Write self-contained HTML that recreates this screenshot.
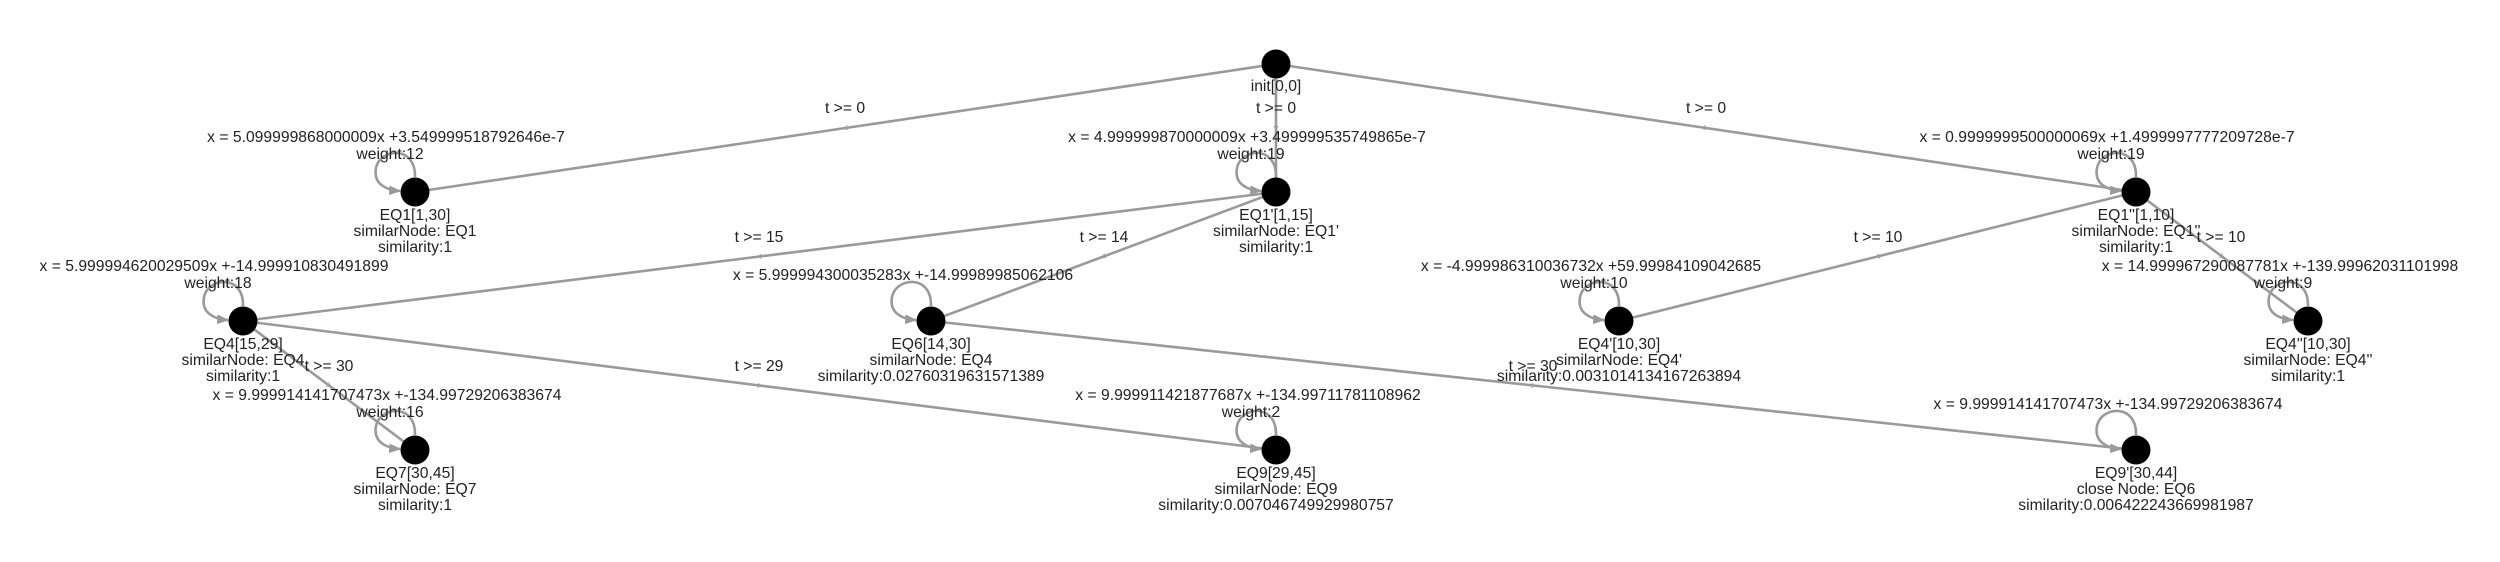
<!DOCTYPE html>
<html><head><meta charset="utf-8"><style>
html,body{margin:0;padding:0;background:#fff;}
svg{display:block;}
text{font-family:"Liberation Sans",Arial,sans-serif;font-size:15.7px;fill:#222;text-anchor:middle;}
.e{stroke:#9a9a9a;stroke-width:2.6;fill:none;}
</style></head><body>
<svg width="2500" height="562" viewBox="0 0 2500 562" xmlns="http://www.w3.org/2000/svg">
<defs>
<marker id="m" viewBox="0 0 10 10" refX="5" refY="5" markerWidth="5" markerHeight="5" orient="auto" markerUnits="userSpaceOnUse">
<path d="M0,0 L8,5 L0,10" fill="none" stroke="#9a9a9a" stroke-width="1.5"/></marker>
<marker id="a" viewBox="0 0 10 10" refX="9" refY="5" markerWidth="12" markerHeight="12" orient="auto" markerUnits="userSpaceOnUse">
<path d="M0,1 L10,5 L0,9 z" fill="#9a9a9a"/></marker>
</defs>
<path class="e" marker-mid="url(#m)" d="M1276,64 L845.5,128 L415,192"/>
<path class="e" marker-mid="url(#m)" d="M1276,64 L1276,128 L1276,192"/>
<path class="e" marker-mid="url(#m)" d="M1276,64 L1706,128 L2136,192"/>
<path class="e" marker-mid="url(#m)" d="M1276,192 L759.5,256.5 L243,321"/>
<path class="e" marker-mid="url(#m)" d="M1276,192 L1103.5,256.5 L931,321"/>
<path class="e" marker-mid="url(#m)" d="M2136,192 L1877.5,256.5 L1619,321"/>
<path class="e" marker-mid="url(#m)" d="M2136,192 L2222,256.5 L2308,321"/>
<path class="e" marker-mid="url(#m)" d="M243,321 L329,385.5 L415,450"/>
<path class="e" marker-mid="url(#m)" d="M243,321 L759.5,385.5 L1276,450"/>
<path class="e" marker-mid="url(#m)" d="M931,321 L1533.5,385.5 L2136,450"/>
<g class="e" marker-end="url(#a)">
<path d="M415,177 C416,145 380,148 376,168 C373,184 386,190 400,191"/>
<path d="M1276,177 C1277,145 1241,148 1237,168 C1234,184 1247,190 1261,191"/>
<path d="M2136,177 C2137,145 2101,148 2097,168 C2094,184 2107,190 2121,191"/>
<path d="M243,306 C244,274 208,277 204,297 C201,313 214,319 228,320"/>
<path d="M931,306 C932,274 896,277 892,297 C889,313 902,319 916,320"/>
<path d="M1619,306 C1620,274 1584,277 1580,297 C1577,313 1590,319 1604,320"/>
<path d="M2308,306 C2309,274 2273,277 2269,297 C2266,313 2279,319 2293,320"/>
<path d="M415,435 C416,403 380,406 376,426 C373,442 386,448 400,449"/>
<path d="M1276,435 C1277,403 1241,406 1237,426 C1234,442 1247,448 1261,449"/>
<path d="M2136,435 C2137,403 2101,406 2097,426 C2094,442 2107,448 2121,449"/>
</g>
<g fill="#000">
<circle cx="1276" cy="64" r="14.5"/>
<circle cx="415" cy="192" r="14.5"/>
<circle cx="1276" cy="192" r="14.5"/>
<circle cx="2136" cy="192" r="14.5"/>
<circle cx="243" cy="321" r="14.5"/>
<circle cx="931" cy="321" r="14.5"/>
<circle cx="1619" cy="321" r="14.5"/>
<circle cx="2308" cy="321" r="14.5"/>
<circle cx="415" cy="450" r="14.5"/>
<circle cx="1276" cy="450" r="14.5"/>
<circle cx="2136" cy="450" r="14.5"/>
</g>
<text x="845" y="113">t &gt;= 0</text>
<text x="1276" y="113">t &gt;= 0</text>
<text x="1706" y="113">t &gt;= 0</text>
<text x="759" y="242">t &gt;= 15</text>
<text x="1104" y="242">t &gt;= 14</text>
<text x="1878" y="242">t &gt;= 10</text>
<text x="2221" y="242">t &gt;= 10</text>
<text x="329" y="371">t &gt;= 30</text>
<text x="759" y="371">t &gt;= 29</text>
<text x="1533" y="371">t &gt;= 30</text>
<text x="1276" y="91">init[0,0]</text>

<text x="386" y="142">x = 5.099999868000009x +3.549999518792646e-7</text>
<text x="390" y="159">weight:12</text>
<text x="415" y="220">EQ1[1,30]</text>
<text x="415" y="236">similarNode: EQ1</text>
<text x="415" y="252">similarity:1</text>

<text x="1247" y="142">x = 4.999999870000009x +3.499999535749865e-7</text>
<text x="1251" y="159">weight:19</text>
<text x="1276" y="220">EQ1'[1,15]</text>
<text x="1276" y="236">similarNode: EQ1'</text>
<text x="1276" y="252">similarity:1</text>

<text x="2107" y="142">x = 0.9999999500000069x +1.4999997777209728e-7</text>
<text x="2111" y="159">weight:19</text>
<text x="2136" y="220">EQ1''[1,10]</text>
<text x="2136" y="236">similarNode: EQ1''</text>
<text x="2136" y="252">similarity:1</text>

<text x="214" y="271">x = 5.999994620029509x +-14.999910830491899</text>
<text x="218" y="288">weight:18</text>
<text x="243" y="349">EQ4[15,29]</text>
<text x="243" y="365">similarNode: EQ4</text>
<text x="243" y="381">similarity:1</text>

<text x="903" y="280">x = 5.999994300035283x +-14.99989985062106</text>
<text x="931" y="349">EQ6[14,30]</text>
<text x="931" y="365">similarNode: EQ4</text>
<text x="931" y="381">similarity:0.02760319631571389</text>

<text x="1591" y="271">x = -4.999986310036732x +59.99984109042685</text>
<text x="1594" y="288">weight:10</text>
<text x="1619" y="349">EQ4'[10,30]</text>
<text x="1619" y="365">similarNode: EQ4'</text>
<text x="1619" y="381">similarity:0.0031014134167263894</text>

<text x="2280" y="271">x = 14.999967290087781x +-139.99962031101998</text>
<text x="2283" y="288">weight:9</text>
<text x="2308" y="349">EQ4''[10,30]</text>
<text x="2308" y="365">similarNode: EQ4''</text>
<text x="2308" y="381">similarity:1</text>

<text x="387" y="400">x = 9.999914141707473x +-134.99729206383674</text>
<text x="390" y="417">weight:16</text>
<text x="415" y="478">EQ7[30,45]</text>
<text x="415" y="494">similarNode: EQ7</text>
<text x="415" y="510">similarity:1</text>

<text x="1248" y="400">x = 9.999911421877687x +-134.99711781108962</text>
<text x="1251" y="417">weight:2</text>
<text x="1276" y="478">EQ9[29,45]</text>
<text x="1276" y="494">similarNode: EQ9</text>
<text x="1276" y="510">similarity:0.007046749929980757</text>

<text x="2108" y="409">x = 9.999914141707473x +-134.99729206383674</text>
<text x="2136" y="478">EQ9'[30,44]</text>
<text x="2136" y="494">close Node: EQ6</text>
<text x="2136" y="510">similarity:0.006422243669981987</text>
</svg>
</body></html>
